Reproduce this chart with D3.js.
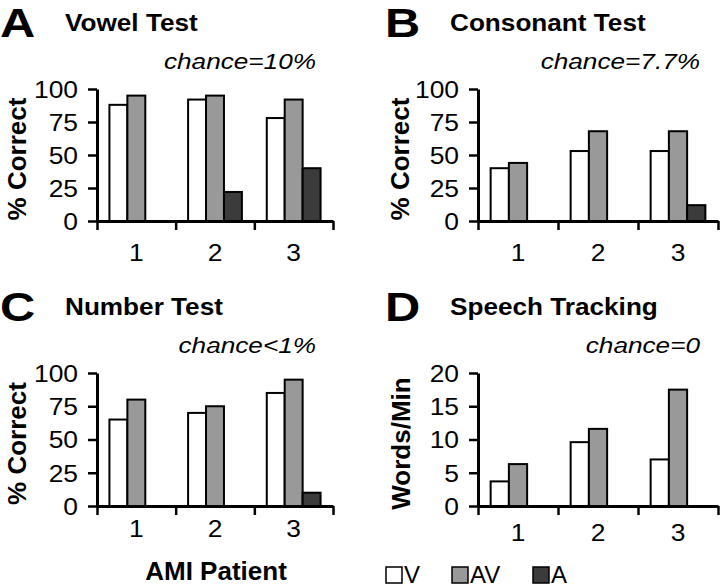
<!DOCTYPE html>
<html>
<head>
<meta charset="utf-8">
<script src="https://cdn.jsdelivr.net/npm/d3@7"></script>
<style>
  html, body { margin: 0; padding: 0; background: #fff; }
  svg { display: block; }
  text { font-family: "Liberation Sans", Arial, sans-serif; fill: #000; }
</style>
</head>
<body>
<svg id="chart" width="720" height="588"></svg>
<script>
// ---------- data ----------
const patients = ["1", "2", "3"];
const series = ["V", "AV", "A"];

const vowelV  = [88, 92, 78];
const vowelAV = [95, 95, 92];
const vowelA  = [null, 22, 40];

const consV  = [40, 53, 53];
const consAV = [44, 68, 68];
const consA  = [null, null, 12];

const numV  = [65, 70, 85];
const numAV = [80, 75, 95];
const numA  = [null, null, 10];

const trackV  = [3.7, 9.6, 7.0];
const trackAV = [6.3, 11.6, 17.5];
const trackA  = [null, null, null];

const pctTicks   = [0, 25, 50, 75, 100];
const trackTicks = [0, 5, 10, 15, 20];

const panelLetters = ["A", "B", "C", "D"];
const panelTitles  = ["Vowel Test", "Consonant Test", "Number Test", "Speech Tracking"];
const chanceLabels = ["chance=10%", "chance=7.7%", "chance<1%", "chance=0"];
const yLabels      = ["% Correct", "% Correct", "% Correct", "Words/Min"];
const xLabel       = "AMI Patient";

// ---------- styles / layout ----------
const fills = { V: "#ffffff", AV: "#999999", A: "#3b3b3b" };

const panels = [
  { data: [vowelV, vowelAV, vowelA], ticks: pctTicks, max: 100,
    x0: 97, x1: 333, yTop: 89, yBot: 221, ox: 0, oy: 0, ylx: 17, xtb: 261 },
  { data: [consV, consAV, consA], ticks: pctTicks, max: 100,
    x0: 478, x1: 718, yTop: 89, yBot: 221, ox: 385, oy: 0, ylx: 400, xtb: 261 },
  { data: [numV, numAV, numA], ticks: pctTicks, max: 100,
    x0: 97, x1: 333, yTop: 373, yBot: 506, ox: 0, oy: 284, ylx: 17, xtb: 537 },
  { data: [trackV, trackAV, trackA], ticks: trackTicks, max: 20,
    x0: 478, x1: 718, yTop: 373, yBot: 506, ox: 385, oy: 284, ylx: 401, xtb: 541 }
];

const svg = d3.select("#chart");

function txt(parent, x, y, str, o) {
  const g = parent.append("g").attr("transform",
    `translate(${x},${y})` + (o.rotate ? ` rotate(${o.rotate})` : "") + ` scale(${o.sx || 1},1)`);
  return g.append("text")
    .attr("font-size", o.size)
    .attr("font-weight", o.weight || "normal")
    .attr("font-style", o.style || "normal")
    .attr("text-anchor", o.anchor || "start")
    .text(str);
}

panels.forEach((p, i) => {
  const g = svg.append("g");

  const y = d3.scaleLinear().domain([0, p.max]).range([p.yBot, p.yTop]);
  const xb = d3.scaleBand().domain(patients).range([p.x0, p.x1])
    .paddingInner(0.316).paddingOuter(0.158);
  const xs = d3.scaleBand().domain(series).range([0, xb.bandwidth()]);
  const xEdge = d3.scaleLinear().domain([0, patients.length]).range([p.x0, p.x1]);

  // bars
  const rows = [];
  patients.forEach((pt, j) => series.forEach((s, k) => {
    const v = p.data[k][j];
    if (v !== null && v > 0) rows.push({ pt, s, v });
  }));
  g.selectAll("rect.bar").data(rows).enter().append("rect")
    .attr("class", "bar")
    .attr("x", d => xb(d.pt) + xs(d.s))
    .attr("y", d => y(d.v))
    .attr("width", xs.bandwidth())
    .attr("height", d => y(0) - y(d.v))
    .attr("fill", d => fills[d.s])
    .attr("stroke", "#000")
    .attr("stroke-width", 2);

  // y axis
  const ya = g.append("g").attr("transform", `translate(${p.x0},0)`)
    .call(d3.axisLeft(y).tickValues(p.ticks).tickSize(9).tickPadding(10).tickSizeOuter(0));
  ya.select(".domain").attr("stroke-width", 3);
  ya.selectAll(".tick line").attr("stroke-width", 2.5);
  ya.selectAll(".tick text").text("").each(function (d) {
    txt(d3.select(this.parentNode), -19, 0, String(d), { size: 24, anchor: "end", sx: 1.1 })
      .attr("dy", "0.35em");
  });

  // x axis (edge ticks)
  const xa = g.append("g").attr("transform", `translate(0,${p.yBot})`)
    .call(d3.axisBottom(xEdge).tickValues(d3.range(patients.length + 1)).tickSize(9).tickFormat("").tickSizeOuter(0));
  xa.select(".domain").attr("stroke-width", 3);
  xa.selectAll(".tick line").attr("stroke-width", 2.5);

  // x category labels
  const xl = g.append("g").attr("transform", `translate(0,${p.yBot})`)
    .call(d3.axisBottom(xb).tickSize(0));
  xl.select(".domain").remove();
  xl.selectAll(".tick text").text("").each(function (d) {
    txt(d3.select(this.parentNode), 0, p.xtb - p.yBot, d, { size: 24, anchor: "middle", sx: 1.1 });
  });

  // panel letter, title, chance
  txt(g, p.ox, p.oy + 37, panelLetters[i], { size: 40, weight: "bold", sx: 1.22 });
  txt(g, p.ox + 65, p.oy + 31, panelTitles[i], { size: 24, weight: "bold", sx: 1.09 });
  txt(g, (i % 2 === 0 ? 316 : 700), p.oy + 69, chanceLabels[i], { size: 22, style: "italic", anchor: "end", sx: 1.19 });

  // y label
  txt(g, p.ylx + 9, (p.yTop + p.yBot) / 2 + 4, yLabels[i], { size: 26, weight: "bold", anchor: "middle", rotate: -90 });
});

// x axis title
txt(svg, 216, 580, xLabel, { size: 26, weight: "bold", anchor: "middle" });

// legend
const legX = [386, 452, 533];
const lg = svg.append("g");
series.forEach((s, k) => {
  lg.append("rect")
    .attr("x", legX[k]).attr("y", 567).attr("width", 16).attr("height", 16)
    .attr("fill", fills[s]).attr("stroke", "#000").attr("stroke-width", 1.5);
  txt(lg, legX[k] + 18, 583, s, { size: 24 });
});
</script>
</body>
</html>
